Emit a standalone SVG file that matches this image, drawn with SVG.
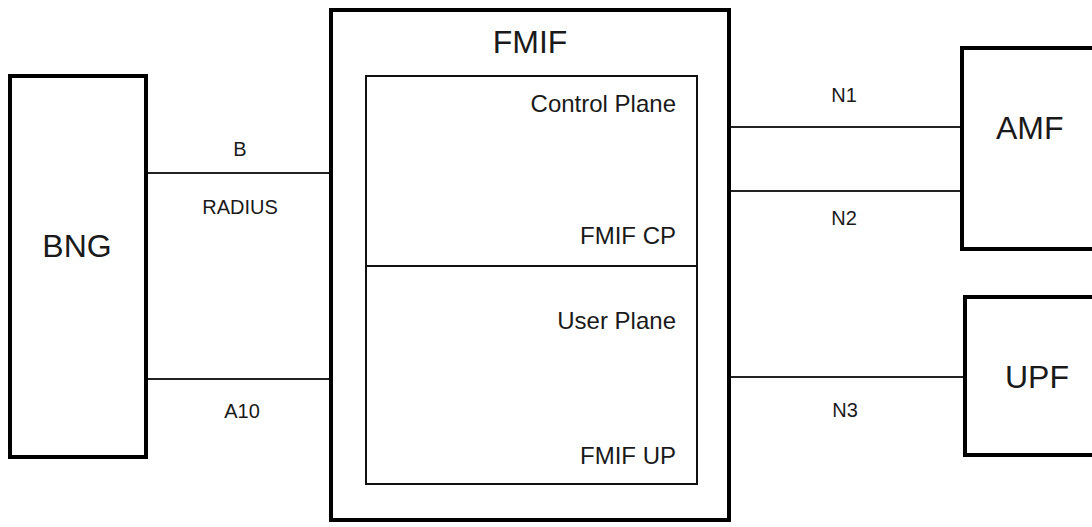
<svg xmlns="http://www.w3.org/2000/svg" width="1092" height="527" viewBox="0 0 1092 527">
<style>
.box{fill:#fff;stroke:#000;stroke-width:4}
.inner{fill:none;stroke:#111;stroke-width:2}
.conn{stroke:#222;stroke-width:2;fill:none}
.big{font-family:"Liberation Sans",Arial,sans-serif;font-size:32px;fill:#1a1a1a}
.mid{font-family:"Liberation Sans",Arial,sans-serif;font-size:24px;fill:#1a1a1a}
.lbl{font-family:"Liberation Sans",Arial,sans-serif;font-size:20px;fill:#1a1a1a;text-anchor:middle}
</style>
<rect width="1092" height="527" fill="#fff"/>
<g id="connectors">
<line class="conn" x1="146" y1="173" x2="331" y2="173"/>
<line class="conn" x1="146" y1="379" x2="331" y2="379"/>
<line class="conn" x1="729" y1="127" x2="962" y2="127"/>
<line class="conn" x1="729" y1="191" x2="962" y2="191"/>
<line class="conn" x1="729" y1="377" x2="965" y2="377"/>
<text class="lbl" x="240" y="156">B</text>
<text class="lbl" x="240" y="214">RADIUS</text>
<text class="lbl" x="242" y="418">A10</text>
<text class="lbl" x="844" y="102">N1</text>
<text class="lbl" x="844" y="225">N2</text>
<text class="lbl" x="845" y="417">N3</text>
</g>
<g id="bng">
<rect class="box" x="10" y="76" width="136" height="381"/>
<text class="big" x="77" y="257" text-anchor="middle">BNG</text>
</g>
<g id="fmif">
<rect class="box" x="331" y="10" width="398" height="510"/>
<text class="big" x="530" y="53" text-anchor="middle">FMIF</text>
</g>
<g id="fmif-cp">
<rect class="inner" x="366" y="76" width="331" height="190"/>
<text class="mid" x="676" y="112" text-anchor="end">Control Plane</text>
<text class="mid" x="676" y="244" text-anchor="end">FMIF CP</text>
</g>
<g id="fmif-up">
<rect class="inner" x="366" y="266" width="331" height="218"/>
<text class="mid" x="676" y="329" text-anchor="end">User Plane</text>
<text class="mid" x="676" y="464" text-anchor="end">FMIF UP</text>
</g>
<g id="amf">
<rect class="box" x="962" y="48" width="140" height="201"/>
<text class="big" x="996" y="139">AMF</text>
</g>
<g id="upf">
<rect class="box" x="965" y="297" width="140" height="158"/>
<text class="big" x="1005" y="388">UPF</text>
</g>
</svg>
